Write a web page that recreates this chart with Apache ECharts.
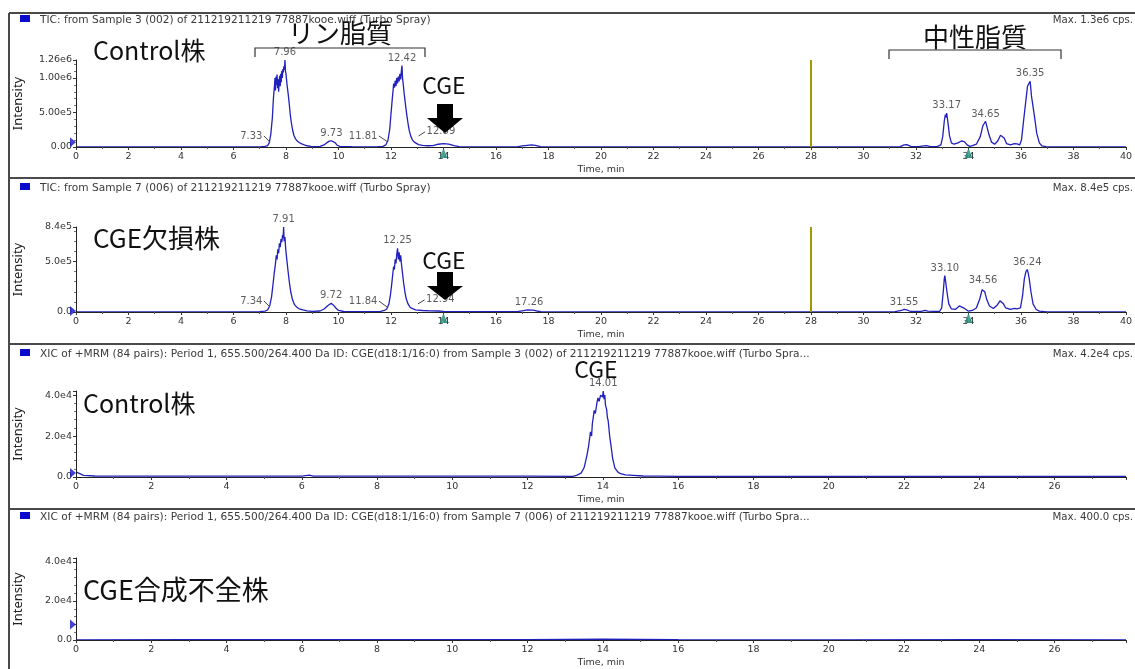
<!DOCTYPE html>
<html><head><meta charset="utf-8">
<script src="https://cdn.jsdelivr.net/npm/echarts@6/dist/echarts.min.js"></script>
<style>html,body{margin:0;padding:0;background:#fff}#c{width:1135px;height:669px}</style>
</head><body><div id="c"></div>
<script>
// ---------- DATA ----------
const tic1 = [
[0,2000],[1,1000],[2,1000],[3,1000],[4,1000],[5,1000],[6,1500],[7,3000],
[7.20,8000],[7.30,20000],[7.36,60000],[7.42,180000],[7.48,420000],[7.52,700000],[7.56,880000],[7.58,1000000],[7.60,820000],[7.62,1020000],[7.64,900000],[7.66,1050000],[7.68,850000],[7.70,980000],[7.72,800000],[7.74,950000],[7.76,1030000],[7.78,880000],[7.80,1060000],[7.82,940000],[7.84,1100000],[7.86,1000000],[7.88,1130000],[7.90,1080000],[7.92,1170000],[7.94,1120000],[7.96,1260000],[7.98,1100000],[8.00,1060000],[8.04,900000],[8.08,780000],[8.12,640000],[8.16,480000],[8.20,360000],[8.25,250000],[8.30,170000],[8.36,120000],[8.42,90000],[8.50,65000],[8.60,45000],[8.70,30000],[8.80,18000],[8.95,10000],[9.10,6000],
[9.30,8000],[9.45,30000],[9.55,60000],[9.65,85000],[9.73,90000],[9.80,80000],[9.88,60000],[9.95,25000],[10.05,8000],[10.5,4000],[11.0,3000],[11.5,4000],[11.70,10000],
[11.80,30000],[11.88,90000],[11.95,250000],[12.00,480000],[12.05,700000],[12.08,820000],[12.10,920000],[12.13,860000],[12.16,960000],[12.19,880000],[12.22,1000000],[12.25,920000],[12.28,1020000],[12.31,950000],[12.34,1060000],[12.37,980000],[12.40,1120000],[12.42,1180000],[12.44,1000000],[12.47,900000],[12.50,780000],[12.55,620000],[12.60,470000],[12.65,340000],[12.70,230000],[12.76,150000],[12.82,100000],[12.89,70000],[12.96,50000],[13.05,35000],[13.2,25000],[13.4,18000],[13.6,20000],[13.8,40000],[14.0,48000],[14.2,42000],[14.4,20000],[14.6,6000],[15.0,3000],[16.0,2000],
[16.8,3000],[17.0,15000],[17.2,25000],[17.35,30000],[17.5,22000],[17.7,5000],[18,2000],[20,1500],[22,1500],[24,1500],[26,1500],[28,1500],[30,2000],[31.0,3000],
[31.4,6000],[31.55,30000],[31.65,35000],[31.8,8000],[32.1,4000],[32.3,15000],[32.4,20000],[32.55,5000],[32.8,5000],[32.95,30000],[33.02,150000],[33.08,380000],[33.12,470000],[33.15,430000],[33.17,490000],[33.22,350000],[33.28,160000],[33.35,60000],[33.45,40000],[33.6,60000],[33.75,90000],[33.85,75000],[33.95,30000],[34.05,10000],[34.15,20000],[34.3,40000],[34.45,150000],[34.55,310000],[34.60,340000],[34.65,370000],[34.70,300000],[34.78,180000],[34.88,70000],[35.0,40000],[35.12,90000],[35.22,170000],[35.28,190000],[35.36,130000],[35.45,50000],[35.6,30000],[35.75,50000],[35.85,45000],[35.95,30000],[36.02,100000],[36.10,380000],[36.18,650000],[36.25,880000],[36.30,920000],[36.35,950000],[36.40,740000],[36.45,720000],[36.52,430000],[36.6,200000],[36.7,60000],[36.8,15000],[36.95,5000],[37.1,2000],[38,1500],[40,1500]
];
const tic2 = [
[0,2000],[1,1000],[2,1000],[3,1000],[4,1000],[5,1000],[6,1500],[7,3000],
[7.20,8000],[7.30,20000],[7.38,60000],[7.45,150000],[7.50,260000],[7.55,380000],[7.60,480000],[7.63,560000],[7.66,520000],[7.69,620000],[7.72,580000],[7.75,680000],[7.78,640000],[7.81,720000],[7.84,690000],[7.87,760000],[7.89,730000],[7.91,840000],[7.93,700000],[7.96,740000],[7.99,620000],[8.03,520000],[8.08,400000],[8.13,290000],[8.18,200000],[8.25,120000],[8.32,75000],[8.40,50000],[8.50,32000],[8.65,20000],[8.8,12000],[9.0,6000],
[9.3,10000],[9.45,30000],[9.6,65000],[9.72,85000],[9.8,70000],[9.9,40000],[10.0,15000],[10.2,5000],[11,3000],[11.6,6000],
[11.75,15000],[11.84,30000],[11.92,80000],[11.98,170000],[12.03,280000],[12.07,380000],[12.10,450000],[12.13,420000],[12.16,520000],[12.19,480000],[12.22,570000],[12.25,630000],[12.28,520000],[12.31,590000],[12.34,500000],[12.37,560000],[12.40,470000],[12.44,380000],[12.48,290000],[12.53,200000],[12.58,130000],[12.65,80000],[12.72,50000],[12.80,35000],[12.94,22000],[13.2,15000],[13.5,12000],[13.8,10000],[14.0,6000],[14.3,3000],[16.8,3000],
[17.0,12000],[17.2,20000],[17.26,22000],[17.4,18000],[17.55,10000],[17.7,4000],[18,2000],[20,1500],[22,1500],[24,1500],[26,1500],[28,1500],[30,2000],[31.2,3000],
[31.45,15000],[31.55,25000],[31.65,20000],[31.8,5000],[32.2,5000],[32.35,15000],[32.45,8000],[32.9,5000],[32.98,40000],[33.04,200000],[33.08,330000],[33.10,360000],[33.13,300000],[33.18,200000],[33.25,80000],[33.35,30000],[33.5,25000],[33.65,60000],[33.72,65000],[33.85,35000],[34.0,8000],[34.15,15000],[34.3,40000],[34.42,120000],[34.52,220000],[34.56,235000],[34.62,200000],[34.7,120000],[34.8,60000],[34.95,35000],[35.1,70000],[35.2,110000],[35.25,115000],[35.32,85000],[35.42,40000],[35.6,25000],[35.75,35000],[35.85,30000],[35.98,40000],[36.06,160000],[36.13,330000],[36.19,400000],[36.22,410000],[36.24,420000],[36.28,380000],[36.32,320000],[36.38,200000],[36.46,80000],[36.58,25000],[36.7,8000],[37,2000],[40,1500]
];
const xic1 = [
[0,2500],[0.2,800],[0.5,500],[1,400],[2,400],[3,400],[4,400],[5,400],[6.0,400],[6.2,900],[6.3,400],[7,400],[8,400],[9,400],[10,400],[11,400],[12,400],[13.2,300],
[13.3,800],[13.42,1900],[13.50,4500],[13.57,10000],[13.62,15000],[13.67,22000],[13.70,20000],[13.72,26000],[13.77,32500],[13.80,31000],[13.84,36000],[13.87,38600],[13.90,37000],[13.94,40000],[13.97,40800],[13.99,39000],[14.01,42000],[14.03,38000],[14.05,40000],[14.07,35000],[14.10,33000],[14.12,29000],[14.14,27600],[14.18,20000],[14.22,14800],[14.26,9000],[14.32,4300],[14.40,2400],[14.47,1600],[14.6,1000],[14.8,800],[15.07,500],[15.5,400],[16,300],[18,300],[20,300],[22,300],[24,300],[26,300],[27.9,300]
];
const xic2 = [[0,100],[3,150],[6,200],[9,120],[12,180],[14,400],[16,150],[20,100],[24,130],[27.9,100]];

const panelTitles = [
 'TIC: from Sample 3 (002) of 211219211219 77887kooe.wiff (Turbo Spray)',
 'TIC: from Sample 7 (006) of 211219211219 77887kooe.wiff (Turbo Spray)',
 'XIC of +MRM (84 pairs): Period 1, 655.500/264.400 Da ID: CGE(d18:1/16:0) from Sample 3 (002) of 211219211219 77887kooe.wiff (Turbo Spra...',
 'XIC of +MRM (84 pairs): Period 1, 655.500/264.400 Da ID: CGE(d18:1/16:0) from Sample 7 (006) of 211219211219 77887kooe.wiff (Turbo Spra...'
];
const maxTexts = ['Max. 1.3e6 cps.', 'Max. 8.4e5 cps.', 'Max. 4.2e4 cps.', 'Max. 400.0 cps.'];
const yMax = [1260000, 840000, 42000, 42000];
const yStep = [500000, 500000, 20000, 20000];
const yDigits = [2, 1, 1, 1];
const xMax = [40, 40, 27.9, 27.9];
const xStep = 2;

// peak labels: [time, intensity, text]
const topLabels1 = [[7.96,1260000,'7.96'],[9.73,90000,'9.73'],[12.42,1180000,'12.42'],[33.17,490000,'33.17'],[34.65,370000,'34.65'],[36.35,950000,'36.35']];
const topLabels2 = [[7.91,840000,'7.91'],[9.72,85000,'9.72'],[12.25,630000,'12.25'],[17.26,22000,'17.26'],[31.55,25000,'31.55'],[33.10,360000,'33.10'],[34.56,235000,'34.56'],[36.24,420000,'36.24']];
const topLabels3 = [[14.01,42000,'14.01']];
// leader-labelled peaks: [labelTime, labelIntensity, peakTime, peakIntensity, text, side]
const leaderLabels1 = [[7.16,160000,7.39,70000,'7.33','left'],[11.54,160000,11.85,80000,'11.81','left'],[13.30,220000,13.05,160000,'12.89','right']];
const leaderLabels2 = [[7.16,109000,7.39,49000,'7.34','left'],[11.54,109000,11.85,49000,'11.84','left'],[13.28,120000,13.03,80000,'12.94','right']];
const spikeTime = 28;
const spikeTop = [1260000, 840000];
const startMarkers = [70000, 10000, 2000, 8000];
const checkTimes = [14, 34];

// ---------- LAYOUT ----------
const tops = [60, 227, 391, 558];
const heights = [87, 85, 86, 85];
const LABEL_FONT = 'DejaVu Sans';
const BLUE = '#2020bc';

const grids = [], xAxes = [], yAxes = [], series = [];
for (let i = 0; i < 4; i++) {
  grids.push({left: 76, right: 9, top: tops[i], height: heights[i]});
  xAxes.push({
    type: 'value', gridIndex: i, min: 0, max: xMax[i], interval: xStep, z: 10,
    name: 'Time, min', nameLocation: 'middle', nameGap: 18,
    nameTextStyle: {fontFamily: LABEL_FONT, fontSize: 9.5, color: '#333'},
    axisLine: {onZero: false, lineStyle: {color: '#222', width: 1}},
    axisTick: {show: true, length: 3, lineStyle: {color: '#333'}},
    minorTick: {show: true, splitNumber: 2, length: 2, lineStyle: {color: '#555'}},
    splitLine: {show: false},
    axisLabel: {fontFamily: LABEL_FONT, fontSize: 9.5, color: '#333', margin: 5,
      formatter: v => (Math.abs(v % xStep) < 1e-9 ? String(v) : '')}
  });
  const d = yDigits[i], step = yStep[i];
  yAxes.push({
    type: 'value', gridIndex: i, min: 0, max: yMax[i], interval: step, z: 10,
    name: 'Intensity', nameLocation: 'middle', nameGap: 51, nameRotate: 90,
    nameTextStyle: {fontFamily: 'Noto Sans', fontSize: 13, color: '#222'},
    axisLine: {show: true, lineStyle: {color: '#222', width: 1}},
    axisTick: {show: true, length: 3, lineStyle: {color: '#333'}},
    minorTick: {show: true, splitNumber: 5, length: 2, lineStyle: {color: '#777'}},
    splitLine: {show: false},
    axisLabel: {fontFamily: LABEL_FONT, fontSize: 9.5, color: '#333', margin: 4,
      showMaxLabel: true,
      formatter: v => {
        if (v === 0) return (0).toFixed(d);
        if (i >= 2 && Math.abs(v % step) > 1e-6) return '';
        return v.toExponential(d).replace('e+', 'e');
      }}
  });
}

const traces = [tic1, tic2, xic1, xic2];
traces.forEach((data, i) => {
  const s = {
    type: 'line', xAxisIndex: i, yAxisIndex: i, data: data, showSymbol: false,
    lineStyle: {color: BLUE, width: 1.3}, itemStyle: {color: BLUE}, animation: false, z: 3
  };
  if (i < 2) {
    s.markLine = {
      silent: true, symbol: ['none', 'none'], animation: false,
      label: {show: false},
      lineStyle: {color: '#a39a00', width: 2, type: 'solid'},
      data: [[{coord: [spikeTime, 0]}, {coord: [spikeTime, spikeTop[i]]}]]
    };
  }
  series.push(s);
});

function labelSeries(i, tops_, leaders) {
  const items = [];
  (tops_ || []).forEach(p => items.push({value: [p[0], p[1]], name: p[2], label: {position: 'top', distance: 2}}));
  (leaders || []).forEach(p => items.push({value: [p[0], p[1]], name: p[4], label: {position: p[5], distance: 1}}));
  series.push({
    type: 'scatter', xAxisIndex: i, yAxisIndex: i, symbol: 'circle', symbolSize: 1,
    itemStyle: {color: 'rgba(0,0,0,0)'}, animation: false, silent: true, z: 5,
    label: {show: true, formatter: p => p.name, fontFamily: LABEL_FONT, fontSize: 10, color: '#333'},
    data: items
  });
  if (leaders && leaders.length) {
    series.push({
      type: 'line', xAxisIndex: i, yAxisIndex: i, data: [], animation: false,
      markLine: {silent: true, symbol: ['none', 'none'], animation: false, label: {show: false},
        lineStyle: {color: '#444', width: 1, type: 'solid'},
        data: leaders.map(p => [{coord: [p[0], p[1]]}, {coord: [p[2], p[3]]}])}
    });
  }
}
labelSeries(0, topLabels1, leaderLabels1);
labelSeries(1, topLabels2, leaderLabels2);
labelSeries(2, topLabels3, null);

// start markers (blue triangles at t=0)
startMarkers.forEach((v, i) => {
  series.push({
    type: 'scatter', xAxisIndex: i, yAxisIndex: i, data: [[0, v]], symbol: 'triangle',
    symbolRotate: -90, symbolSize: [10, 6], symbolOffset: [-3, 0], clip: false,
    itemStyle: {color: '#1414c8'}, animation: false, silent: true, z: 12
  });
});
// teal markers under axis
[0, 1].forEach(i => {
  series.push({
    type: 'scatter', xAxisIndex: i, yAxisIndex: i, data: checkTimes.map(t => [t, 0]),
    symbol: 'triangle', symbolSize: [8, 10], symbolOffset: [0, 6], clip: false,
    itemStyle: {color: '#1e8c7c'}, animation: false, silent: true, z: 12
  });
});

// ---------- GRAPHIC (frame, titles, annotations) ----------
const g = [];
const sepY = [13, 178, 344, 509];
sepY.forEach(y => g.push({type: 'line', shape: {x1: 9, y1: y, x2: 1135, y2: y}, style: {stroke: '#4a4a4a', lineWidth: 2}, z: 50}));
g.push({type: 'line', shape: {x1: 9, y1: 13, x2: 9, y2: 669}, style: {stroke: '#4a4a4a', lineWidth: 2}, z: 50});
const titleY = [20, 188, 354, 517];
titleY.forEach((y, i) => {
  g.push({type: 'rect', shape: {x: 20, y: y - 5, width: 10, height: 7}, style: {fill: '#0a0acc'}, z: 50});
  g.push({type: 'text', style: {text: panelTitles[i], x: 40, y: y, font: '10.6px "' + LABEL_FONT + '"', fill: '#3a3a3a', textVerticalAlign: 'middle'}, z: 50});
  g.push({type: 'text', style: {text: maxTexts[i], x: 1133, y: y, font: '10.2px "' + LABEL_FONT + '"', fill: '#3a3a3a', textAlign: 'right', textVerticalAlign: 'middle'}, z: 50});
});
const JP = '"Noto Sans CJK JP"';
function bigText(t, x, y, size, align) {
  g.push({type: 'text', style: {text: t, x: x, y: y, font: size + 'px ' + JP, fill: '#111', textAlign: align || 'left', textVerticalAlign: 'middle'}, z: 60});
}
bigText('Control株', 93, 50, 25);
bigText('リン脂質', 340, 33, 26, 'center');
bigText('中性脂質', 975, 37, 26, 'center');
bigText('CGE', 444, 85, 23, 'center');
bigText('CGE欠損株', 93, 238, 26);
bigText('CGE', 444, 260, 23, 'center');
bigText('Control株', 83, 403, 25);
bigText('CGE', 596, 369, 23, 'center');
bigText('CGE合成不全株', 83, 590, 27);
// brackets
g.push({type: 'polyline', shape: {points: [[255, 57], [255, 48], [425, 48], [425, 57]]}, style: {stroke: '#333', lineWidth: 1.2, fill: null}, z: 60});
g.push({type: 'polyline', shape: {points: [[889, 59], [889, 50], [1061, 50], [1061, 59]]}, style: {stroke: '#333', lineWidth: 1.2, fill: null}, z: 60});
// arrows
function arrow(top, mid, tip) {
  g.push({type: 'polygon', shape: {points: [[437, top], [453, top], [453, mid], [463, mid], [445, tip], [427, mid], [437, mid]]}, style: {fill: '#000'}, z: 70});
}
arrow(104, 118, 133);
arrow(272, 286, 300);

const chart = echarts.init(document.getElementById('c'), null, {renderer: 'canvas'});
chart.setOption({
  backgroundColor: '#fff', animation: false,
  grid: grids, xAxis: xAxes, yAxis: yAxes, series: series, graphic: g
});
</script></body></html>
